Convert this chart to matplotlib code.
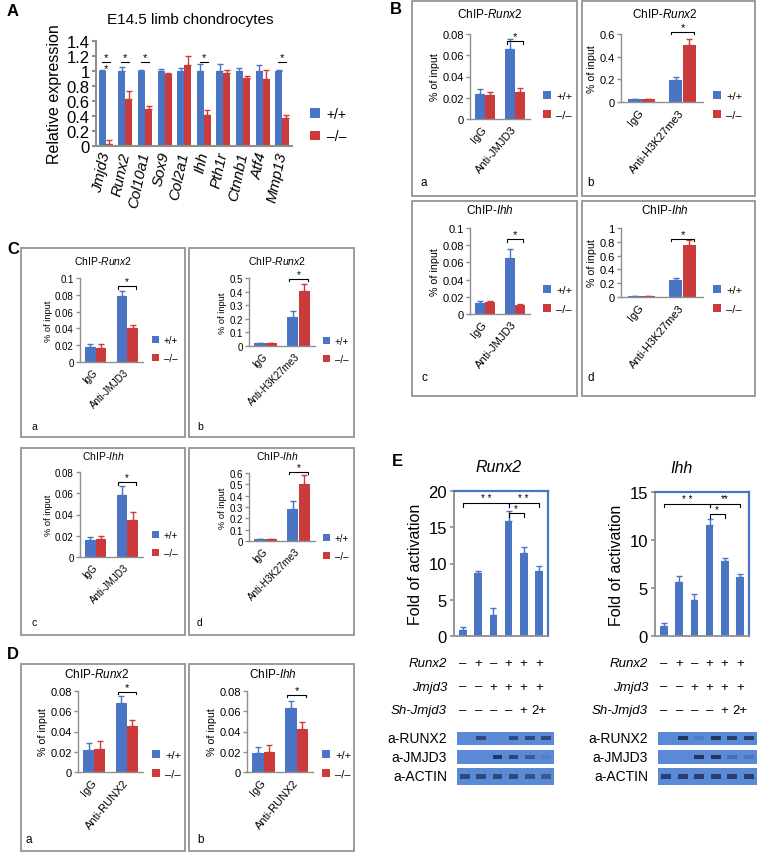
import matplotlib
matplotlib.use("Agg")
import matplotlib.pyplot as plt
from matplotlib.patches import Rectangle, Patch
from matplotlib.transforms import blended_transform_factory
import numpy as np

plt.rcParams["font.family"] = ["Liberation Sans", "DejaVu Sans"]
plt.rcParams["mathtext.fontset"] = "custom"
plt.rcParams["mathtext.rm"] = "Liberation Sans"
plt.rcParams["mathtext.it"] = "Liberation Sans:italic"

BLUE = "#4a74c4"
RED = "#cc3b3b"
GREY = "#8f8f8f"
BLOT_BG = "#5a8ad6"
BAND = "#1f2d58"

# ---------- data ----------
genes = ["Jmjd3", "Runx2", "Col10a1", "Sox9", "Col2a1", "Ihh", "Pth1r", "Ctnnb1", "Atf4", "Mmp13"]
a_wt = [1.0, 1.0, 1.0, 1.0, 1.0, 1.0, 1.0, 1.0, 1.0, 1.0]
a_wt_err = [0.02, 0.06, 0.02, 0.03, 0.04, 0.09, 0.1, 0.04, 0.08, 0.02]
a_ko = [0.03, 0.63, 0.49, 0.96, 1.08, 0.41, 0.97, 0.91, 0.89, 0.38]
a_ko_err = [0.05, 0.1, 0.05, 0.02, 0.12, 0.07, 0.05, 0.03, 0.12, 0.03]
a_stars = ["**", "*", "*", "", "", "*", "", "", "", "*"]

cats_jmjd3 = ["IgG", "Anti-JMJD3"]
cats_h3 = ["IgG", "Anti-H3K27me3"]
cats_runx2 = ["IgG", "Anti-RUNX2"]

# B (a-d)
ba_wt, ba_wt_err, ba_ko, ba_ko_err = [0.024, 0.066], [0.004, 0.009], [0.023, 0.025], [0.002, 0.004]
bb_wt, bb_wt_err, bb_ko, bb_ko_err = [0.025, 0.195], [0.005, 0.03], [0.025, 0.50], [0.005, 0.06]
bc_wt, bc_wt_err, bc_ko, bc_ko_err = [0.013, 0.065], [0.002, 0.011], [0.014, 0.011], [0.001, 0.001]
bd_wt, bd_wt_err, bd_ko, bd_ko_err = [0.01, 0.25], [0.003, 0.03], [0.01, 0.75], [0.003, 0.08]
# C (a-d)
ca_wt, ca_wt_err, ca_ko, ca_ko_err = [0.018, 0.078], [0.003, 0.006], [0.017, 0.040], [0.004, 0.004]
cb_wt, cb_wt_err, cb_ko, cb_ko_err = [0.02, 0.215], [0.003, 0.04], [0.02, 0.405], [0.003, 0.05]
cc_wt, cc_wt_err, cc_ko, cc_ko_err = [0.016, 0.058], [0.003, 0.009], [0.017, 0.035], [0.003, 0.007]
cd_wt, cd_wt_err, cd_ko, cd_ko_err = [0.015, 0.28], [0.004, 0.07], [0.015, 0.50], [0.004, 0.08]
# D (a-b)
da_wt, da_wt_err, da_ko, da_ko_err = [0.022, 0.068], [0.007, 0.007], [0.023, 0.045], [0.008, 0.006]
db_wt, db_wt_err, db_ko, db_ko_err = [0.019, 0.063], [0.006, 0.007], [0.020, 0.042], [0.007, 0.007]

# E
e_runx2 = [0.8, 8.7, 2.9, 15.9, 11.4, 8.9]
e_runx2_err = [0.4, 0.3, 0.9, 1.3, 0.9, 0.8]
e_ihh = [1.0, 5.6, 3.8, 11.6, 7.8, 6.1]
e_ihh_err = [0.4, 0.6, 0.6, 0.6, 0.3, 0.4]
e_rows = ["Runx2", "Jmjd3", "Sh-Jmjd3"]
e_signs = [["\u2013", "+", "\u2013", "+", "+", "+"],
           ["\u2013", "\u2013", "+", "+", "+", "+"],
           ["\u2013", "\u2013", "\u2013", "\u2013", "+", "2+"]]
blot_names = ["a-RUNX2", "a-JMJD3", "a-ACTIN"]
blot_left = [[0, 0.7, 0, 0.7, 0.7, 0.7], [0, 0, 0.9, 0.75, 0.5, 0.1], [0.7, 0.7, 0.7, 0.7, 0.6, 0.5]]
blot_right = [[0, 0.9, 0.15, 0.9, 0.8, 0.8], [0, 0, 0.9, 0.9, 0.3, 0.2], [0.8, 0.8, 0.8, 0.8, 0.8, 0.8]]

W, H = 758, 853
fig = plt.figure(figsize=(W / 100, H / 100), dpi=100)


def px_axes(x0, y0, x1, y1):
    return fig.add_axes([x0 / W, 1 - y1 / H, (x1 - x0) / W, (y1 - y0) / H])


def ftext(x, y, s, **kw):
    fig.text(x / W, 1 - y / H, s, **kw)


def frame(x0, y0, x1, y1):
    fig.add_artist(Rectangle((x0 / W, 1 - y1 / H), (x1 - x0) / W, (y1 - y0) / H,
                             transform=fig.transFigure, fill=False, ec="#9b9b9b", lw=1.4))


def style(ax, fs, lw=1.2):
    for s in ("top", "right"):
        ax.spines[s].set_visible(False)
    for s in ("left", "bottom"):
        ax.spines[s].set_color(GREY); ax.spines[s].set_linewidth(lw)
    ax.tick_params(axis="y", length=3, width=lw, color=GREY, labelsize=fs, pad=1.5)
    ax.tick_params(axis="x", length=0, labelsize=fs)


def sig(ax, x0, x1, y, label, fs, tick):
    ax.plot([x0, x0, x1, x1], [y - tick, y, y, y - tick], color="black", lw=0.8, clip_on=False)
    ax.text((x0 + x1) / 2, y, label, ha="center", va="bottom", fontsize=fs)


def grouped(ax, wt, wte, ko, koe, w):
    n = len(wt); x = np.arange(n)
    ax.bar(x - w / 2, wt, w, color=BLUE, yerr=[np.zeros(n), wte],
           error_kw=dict(ecolor=BLUE, elinewidth=1, capsize=2))
    ax.bar(x + w / 2, ko, w, color=RED, yerr=[np.zeros(n), koe],
           error_kw=dict(ecolor=RED, elinewidth=1, capsize=2))


def legend(ax, lx, ly, fs, spacing):
    ax.legend(handles=[Patch(fc=BLUE), Patch(fc=RED)], labels=["+/+", "\u2013/\u2013"],
              loc="upper left", bbox_to_anchor=(lx / W, 1 - ly / H), bbox_transform=fig.transFigure,
              frameon=False, fontsize=fs, handlelength=0.7, handleheight=0.7, handletextpad=0.5,
              labelspacing=spacing, borderpad=0, borderaxespad=0)


# ---------- A ----------
ftext(7, 12, "A", fontsize=12, fontweight="bold", va="center")
ftext(190, 20, "E14.5 limb chondrocytes", fontsize=11, ha="center", va="center")
ax = px_axes(96, 42, 292, 147)
style(ax, 12, 1.5)
grouped(ax, a_wt, a_wt_err, a_ko, a_ko_err, 0.36)
ax.set_xlim(-0.5, len(genes) - 0.5); ax.set_ylim(0, 1.4)
ax.set_yticks(np.arange(0, 1.41, 0.2))
ax.set_yticklabels(["%g" % round(v, 1) for v in np.arange(0, 1.41, 0.2)])
ax.set_xticks(range(len(genes)))
ax.set_xticklabels(genes, rotation=78, ha="right", va="center", rotation_mode="anchor",
                   style="italic", fontsize=11)
ax.tick_params(axis="x", pad=4)
ax.set_ylabel("Relative expression", fontsize=11.5, labelpad=3)
for i, s in enumerate(a_stars):
    if s:
        sig(ax, i - 0.2, i + 0.2, 1.12, "*", 8, 0.0)
        if s == "**":
            ax.text(i, 1.10, "*", ha="center", va="top", fontsize=8)
legend(ax, 310, 108, 10, 0.6)

# ---------- ChIP panels ----------
chip_panels = [
    # box, axes, title x/y, gene, letter, letter pos, cats, data, ylim, step, legend, fs, star y, rot
    ((412, 2, 577, 197), (470, 35, 530, 120), (490, 15), "Runx2", "a", (420, 183), cats_jmjd3,
     (ba_wt, ba_wt_err, ba_ko, ba_ko_err), 0.08, 0.02, (543, 92), 8, 0.073, 50),
    ((582, 2, 755, 197), (621, 35, 703, 103), (665, 15), "Runx2", "b", (587, 183), cats_h3,
     (bb_wt, bb_wt_err, bb_ko, bb_ko_err), 0.6, 0.2, (713, 92), 8, 0.62, 50),
    ((412, 202, 577, 397), (470, 229, 530, 315), (490, 211), "Ihh", "c", (422, 378), cats_jmjd3,
     (bc_wt, bc_wt_err, bc_ko, bc_ko_err), 0.1, 0.02, (543, 286), 8, 0.087, 50),
    ((582, 202, 755, 397), (621, 229, 703, 298), (665, 211), "Ihh", "d", (588, 378), cats_h3,
     (bd_wt, bd_wt_err, bd_ko, bd_ko_err), 1.0, 0.2, (713, 286), 8, 0.84, 50),
    ((21, 249, 185, 438), (80, 279, 143, 363), (103, 261), "Runx2", "a", (32, 427), cats_jmjd3,
     (ca_wt, ca_wt_err, ca_ko, ca_ko_err), 0.1, 0.02, (152, 336), 7, 0.09, 45),
    ((189, 249, 354, 438), (249, 279, 315, 347), (277, 261), "Runx2", "b", (197, 427), cats_h3,
     (cb_wt, cb_wt_err, cb_ko, cb_ko_err), 0.5, 0.1, (323, 337), 7, 0.49, 45),
    ((21, 449, 185, 636), (80, 473, 143, 558), (103, 456), "Ihh", "c", (32, 623), cats_jmjd3,
     (cc_wt, cc_wt_err, cc_ko, cc_ko_err), 0.08, 0.02, (152, 531), 7, 0.0706, 45),
    ((189, 449, 354, 636), (249, 474, 315, 542), (277, 456), "Ihh", "d", (197, 623), cats_h3,
     (cd_wt, cd_wt_err, cd_ko, cd_ko_err), 0.6, 0.1, (323, 534), 7, 0.61, 45),
    ((21, 665, 185, 852), (78, 692, 143, 773), (97, 675), "Runx2", "a", (25, 840), cats_runx2,
     (da_wt, da_wt_err, da_ko, da_ko_err), 0.08, 0.02, (152, 751), 8, 0.079, 50),
    ((189, 665, 354, 852), (247, 692, 313, 773), (273, 675), "Ihh", "b", (197, 840), cats_runx2,
     (db_wt, db_wt_err, db_ko, db_ko_err), 0.08, 0.02, (322, 751), 8, 0.076, 50),
]

ftext(390, 10, "B", fontsize=12, fontweight="bold", va="center")
ftext(7, 250, "C", fontsize=12, fontweight="bold", va="center")
ftext(7, 655, "D", fontsize=12, fontweight="bold", va="center")

for box, arect, tpos, gene, letter, lpos, cats, d, ymax, step, lg, fs, sy, rot in chip_panels:
    frame(*box)
    ftext(tpos[0], tpos[1], "ChIP-$\\mathit{%s}$" % gene, fontsize=fs + 0.5, ha="center", va="center")
    ftext(lpos[0], lpos[1], letter, fontsize=fs + 0.5, va="center")
    ax = px_axes(*arect)
    style(ax, fs, 1.0)
    grouped(ax, *d, 0.34)
    ax.set_xlim(-0.5, 1.5); ax.set_ylim(0, ymax)
    ticks = np.arange(0, ymax + step / 2, step)
    ax.set_yticks(ticks)
    ax.set_yticklabels(["%g" % round(v, 3) for v in ticks])
    ax.set_xticks(range(len(cats)))
    ax.set_xticklabels(cats, rotation=rot, ha="right", va="center", rotation_mode="anchor")
    ax.tick_params(axis="x", pad=6)
    ax.set_ylabel("% of input", fontsize=fs - 0.3, labelpad=1.5)
    sig(ax, 1 - 0.28, 1 + 0.28, sy, "*", fs, ymax * 0.03)
    legend(ax, lg[0], lg[1], fs, 0.8)

# ---------- E ----------
ftext(392, 462, "E", fontsize=12, fontweight="bold", va="center")
e_panels = [
    ((454, 492, 548, 637), (475, 468), "Runx2", e_runx2, e_runx2_err, 20, 447, blot_left, 457, 554,
     [(0, 3, 18.3, "* *"), (3, 5, 18.3, "* *"), (3, 4, 16.9, "*")]),
    ((655, 493, 749, 637), (670, 469), "Ihh", e_ihh, e_ihh_err, 15, 648, blot_right, 658, 757,
     [(0, 3, 13.8, "* *"), (3, 5, 13.8, "**"), (3, 4, 12.7, "*")]),
]
for arect, tpos, gene, vals, errs, ymax, rx, blots, bx0, bx1, sigs in e_panels:
    ftext(tpos[0], tpos[1], gene, fontsize=11.5, style="italic", va="center")
    ax = px_axes(*arect)
    for s in ("left", "bottom"):
        ax.spines[s].set_color(GREY); ax.spines[s].set_linewidth(1.3)
    for s in ("top", "right"):
        ax.spines[s].set_color(BLUE); ax.spines[s].set_linewidth(1.6)
    ax.tick_params(axis="y", length=3, width=1.2, color=GREY, labelsize=12, pad=2)
    ax.tick_params(axis="x", length=0, labelbottom=False)
    n = len(vals)
    ax.bar(np.arange(n), vals, 0.5, color=BLUE, yerr=[np.zeros(n), errs],
           error_kw=dict(ecolor=BLUE, elinewidth=1, capsize=2))
    ax.set_xlim(-0.6, n - 0.4); ax.set_ylim(0, ymax)
    ax.set_yticks(np.arange(0, ymax + 1, 5))
    ax.set_ylabel("Fold of activation", fontsize=11.5, labelpad=4)
    for x0, x1, y, lab in sigs:
        sig(ax, x0, x1, y, lab, 7, ymax * 0.025)
    # condition table
    tr = blended_transform_factory(ax.transData, fig.transFigure)
    for r, (name, signs) in enumerate(zip(e_rows, e_signs)):
        yy = 1 - (664 + 23.5 * r) / H
        fig.text(rx / W, yy, name, ha="right", va="center", fontsize=9.5, style="italic")
        for i, s in enumerate(signs):
            ax.text(i, yy, s, transform=tr, ha="center", va="center", fontsize=9.5)
    # western blots
    for r, (name, bands) in enumerate(zip(blot_names, blots)):
        by0, by1 = [(733, 746), (751, 765), (769, 786)][r]
        fig.text(rx / W, 1 - (by0 + by1) / 2 / H, name, ha="right", va="center", fontsize=10)
        bax = px_axes(bx0, by0, bx1, by1)
        bax.set_facecolor(BLOT_BG)
        bax.set_xlim(-0.5, 5.5); bax.set_ylim(0, 1)
        for i, v in enumerate(bands):
            if v > 0:
                bax.bar(i, 0.28, 0.6, bottom=0.38, color=BAND, alpha=v)
        bax.set_xticks([]); bax.set_yticks([])
        for s in bax.spines.values():
            s.set_visible(False)

fig.savefig("out.png", dpi=100)
